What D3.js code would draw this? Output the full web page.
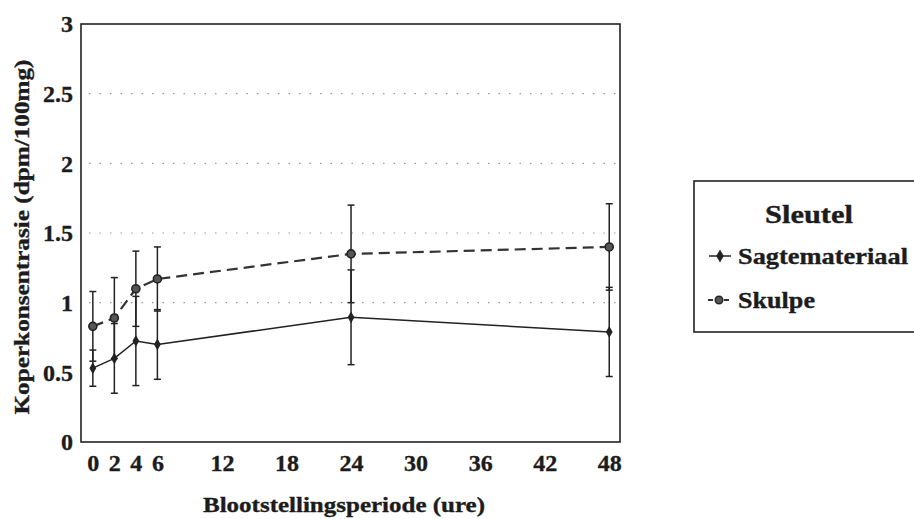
<!DOCTYPE html>
<html>
<head>
<meta charset="utf-8">
<script src="https://cdn.jsdelivr.net/npm/d3@7"></script>
<style>
  body { margin: 0; background: #fff; }
  svg text { font-family: "Liberation Serif", "Times New Roman", serif; font-weight: bold; fill: #1c1c1c; stroke: #1c1c1c; stroke-width: 0.35; }
</style>
</head>
<body>
<div id="chart"></div>
<script>
// data
var hours = [0, 2, 4, 6, 24, 48];
var sagValues = [0.53, 0.60, 0.725, 0.70, 0.895, 0.79];
var sagErrors = [0.13, 0.25, 0.32, 0.25, 0.34, 0.32];
var skulpValues = [0.83, 0.89, 1.10, 1.17, 1.35, 1.40];
var skulpErrors = [0.25, 0.29, 0.27, 0.23, 0.35, 0.31];
var xTicks = [0, 2, 4, 6, 12, 18, 24, 30, 36, 42, 48];
var yTicks = [0, 0.5, 1, 1.5, 2, 2.5, 3];
var gridValues = [1, 1.5, 2, 2.5];
var seriesNames = ["Sagtemateriaal", "Skulpe"];

var width = 914, height = 519;
var plotLeft = 81, plotRight = 620, plotTop = 24, plotBottom = 442;

var svg = d3.select("#chart").append("svg")
  .attr("width", width)
  .attr("height", height);

var x = d3.scaleLinear().domain([-1.1, 49]).range([plotLeft, plotRight]);
var y = d3.scaleLinear().domain([0, 3]).range([plotBottom, plotTop]);

// dotted gridlines
svg.append("g")
  .selectAll("line")
  .data(gridValues)
  .enter()
  .append("line")
  .attr("x1", plotLeft + 8)
  .attr("x2", plotRight - 2)
  .attr("y1", function(d) { return y(d); })
  .attr("y2", function(d) { return y(d); })
  .attr("stroke", "#999")
  .attr("stroke-width", 1.2)
  .attr("stroke-dasharray", "1.5,9");

// frame
svg.append("rect")
  .attr("x", plotLeft).attr("y", plotTop)
  .attr("width", plotRight - plotLeft).attr("height", plotBottom - plotTop)
  .attr("fill", "none")
  .attr("stroke", "#222")
  .attr("stroke-width", 1.6);

// axes
var xAxis = d3.axisBottom(x).tickValues(xTicks).tickSize(0).tickPadding(12);
var gx = svg.append("g").attr("transform", "translate(0," + plotBottom + ")").call(xAxis);
gx.select(".domain").remove();
gx.selectAll("text").style("font-size", "24px").attr("fill", "#1c1c1c");

var yAxis = d3.axisLeft(y).tickValues(yTicks).tickSize(0).tickPadding(8)
  .tickFormat(function(d) { return String(d); });
var gy = svg.append("g").attr("transform", "translate(" + plotLeft + ",0)").call(yAxis);
gy.select(".domain").remove();
gy.selectAll("text").style("font-size", "24px").attr("fill", "#1c1c1c");

// axis titles
svg.append("text")
  .attr("x", 344).attr("y", 512)
  .attr("text-anchor", "middle")
  .style("font-size", "22px")
  .attr("textLength", 282)
  .attr("lengthAdjust", "spacingAndGlyphs")
  .text("Blootstellingsperiode (ure)");

svg.append("text")
  .attr("transform", "translate(29,237) rotate(-90)")
  .attr("text-anchor", "middle")
  .style("font-size", "22px")
  .attr("textLength", 355)
  .attr("lengthAdjust", "spacingAndGlyphs")
  .text("Koperkonsentrasie (dpm/100mg)");

// error bars
function drawErrors(values, errors) {
  var g = svg.append("g").attr("stroke", "#222").attr("stroke-width", 1.5);
  hours.forEach(function(h, i) {
    var cx = x(h), lo = y(values[i] - errors[i]), hi = y(values[i] + errors[i]);
    g.append("line").attr("x1", cx).attr("x2", cx).attr("y1", lo).attr("y2", hi);
    g.append("line").attr("x1", cx - 3.5).attr("x2", cx + 3.5).attr("y1", lo).attr("y2", lo);
    g.append("line").attr("x1", cx - 3.5).attr("x2", cx + 3.5).attr("y1", hi).attr("y2", hi);
  });
}
drawErrors(sagValues, sagErrors);
drawErrors(skulpValues, skulpErrors);

var line = d3.line()
  .x(function(d) { return x(d[0]); })
  .y(function(d) { return y(d[1]); });

svg.append("path")
  .datum(d3.zip(hours, sagValues))
  .attr("d", line)
  .attr("fill", "none")
  .attr("stroke", "#222")
  .attr("stroke-width", 1.5);

svg.append("path")
  .datum(d3.zip(hours, skulpValues))
  .attr("d", line)
  .attr("fill", "none")
  .attr("stroke", "#333")
  .attr("stroke-width", 2.2)
  .attr("stroke-dasharray", "11,6");

// markers
var diamond = d3.symbol().type(d3.symbolDiamond).size(40);
svg.append("g")
  .selectAll("path")
  .data(d3.zip(hours, sagValues))
  .enter()
  .append("path")
  .attr("d", diamond)
  .attr("transform", function(d) { return "translate(" + x(d[0]) + "," + y(d[1]) + ")"; })
  .attr("fill", "#222");

svg.append("g")
  .selectAll("circle")
  .data(d3.zip(hours, skulpValues))
  .enter()
  .append("circle")
  .attr("cx", function(d) { return x(d[0]); })
  .attr("cy", function(d) { return y(d[1]); })
  .attr("r", 4)
  .attr("fill", "#555")
  .attr("stroke", "#222")
  .attr("stroke-width", 1.6);

// legend
var lg = svg.append("g");
lg.append("rect")
  .attr("x", 694).attr("y", 181)
  .attr("width", 240).attr("height", 151)
  .attr("fill", "none")
  .attr("stroke", "#222")
  .attr("stroke-width", 1.6);
lg.append("text")
  .attr("x", 765).attr("y", 223)
  .style("font-size", "25px")
  .attr("textLength", 88)
  .attr("lengthAdjust", "spacingAndGlyphs")
  .text("Sleutel");

lg.append("line").attr("x1", 709).attr("x2", 731).attr("y1", 256).attr("y2", 256)
  .attr("stroke", "#222").attr("stroke-width", 1.5);
lg.append("path").attr("d", d3.symbol().type(d3.symbolDiamond).size(50))
  .attr("transform", "translate(720,256)").attr("fill", "#222");
lg.append("line").attr("x1", 708).attr("x2", 732).attr("y1", 300).attr("y2", 300)
  .attr("stroke", "#333").attr("stroke-width", 2).attr("stroke-dasharray", "5,3");
lg.append("circle").attr("cx", 719).attr("cy", 300).attr("r", 3.8)
  .attr("fill", "#555").attr("stroke", "#222").attr("stroke-width", 1.4);

var itemWidths = [170, 77];
lg.selectAll("text.item")
  .data(seriesNames)
  .enter()
  .append("text")
  .attr("class", "item")
  .attr("x", 738)
  .attr("y", function(d, i) { return 264 + i * 44; })
  .style("font-size", "24px")
  .attr("textLength", function(d, i) { return itemWidths[i]; })
  .attr("lengthAdjust", "spacingAndGlyphs")
  .text(function(d) { return d; });
</script>
</body>
</html>
